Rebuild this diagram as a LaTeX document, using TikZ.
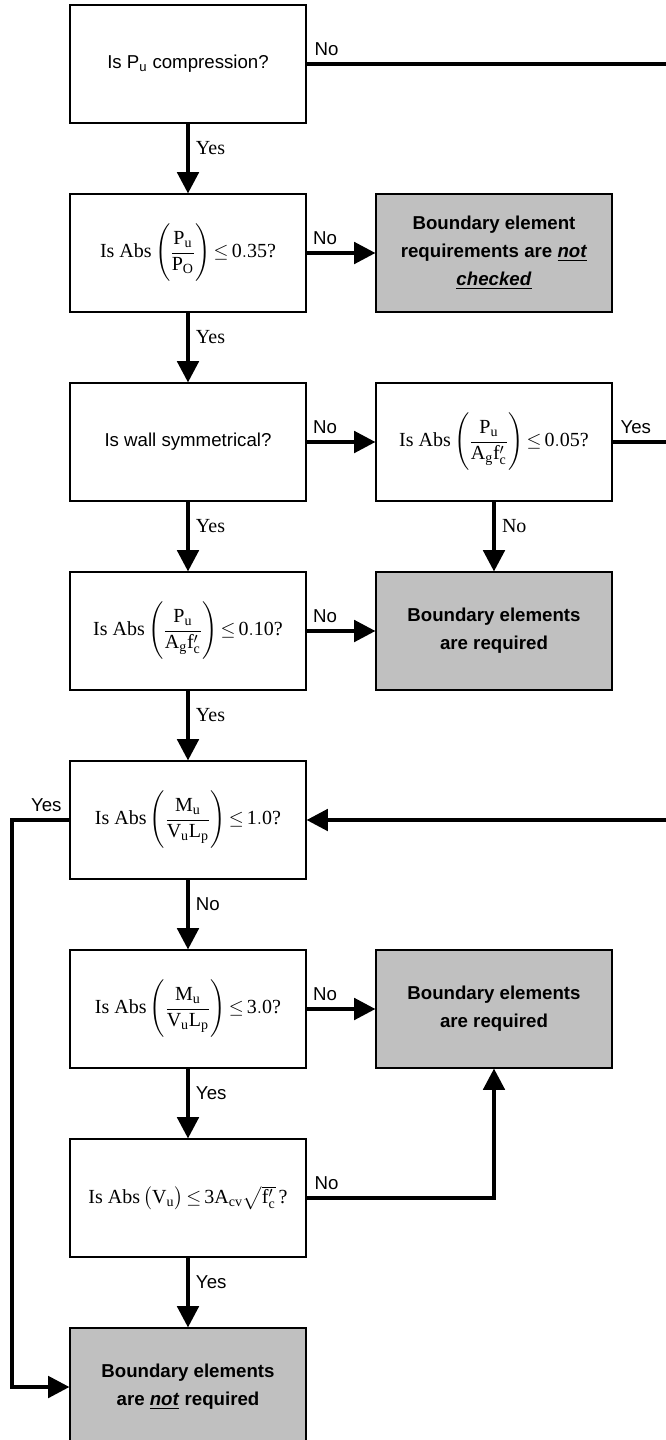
\documentclass[tikz,border=0pt]{standalone}
\usepackage{amsmath}
\usepackage{fontspec}
\setmainfont{Liberation Serif}
\setsansfont{Liberation Sans}
\usepackage{tikz}
\usetikzlibrary{positioning}
\usetikzlibrary{arrows.meta}
\definecolor{boxgray}{RGB}{192,192,192}

\begin{document}
\begin{tikzpicture}[
            > = {Triangle[length=16pt, width=16pt]}, % arrow head style
            line width = 3pt, % connector style
            node distance = 141.75pt % distance between rows
        ]

        \tikzstyle{question}=[
            draw, line width = 0.8pt,
            fill = white,
            minimum width = 177pt,
            minimum height = 88.5pt,
            inner sep = 0pt,
            align = center
        ]
        \tikzstyle{result}=[question, fill = boxgray,
            font = \sffamily\bfseries\fontsize{14}{21}\selectfont]
        \tikzstyle{sanstext}=[font = \sffamily\fontsize{14}{17}\selectfont]
        \tikzstyle{formula}=[font = \rmfamily\fontsize{15}{18}\selectfont]
        \tikzstyle{sanslbl}=[font = \sffamily\fontsize{14}{17}\selectfont, inner sep = 4.5pt]
        \tikzstyle{seriflbl}=[font = \rmfamily\fontsize{15}{18}\selectfont, inner sep = 4.5pt]

        \useasboundingbox (-141pt, 48pt) rectangle (358.5pt, -1032pt);
        \coordinate (rgt) at (358.5pt, 0);
        \coordinate (lft) at (-132pt, 0);

	% questions
        \node[question, sanstext] (q1) {Is P\textsubscript{u} compression?};
        \node[question, formula] (q2) [below of = q1]
            {Is Abs\,$\Biggl(\dfrac{\mathrm{P}_{\mathrm{u}}}{\mathrm{P}_{\mathrm{O}}}\Biggr)\,{\leq}\,\mathrm{0.35}$?};
        \node[question, sanstext] (q3) [below of = q2] {Is wall symmetrical?};
        \node[question, formula] (q4) [below of = q3]
            {Is Abs\,$\Biggl(\dfrac{\mathrm{P}_{\mathrm{u}}}{\mathrm{A}_{\mathrm{g}}\mathrm{f}'_{\mathrm{c}}}\Biggr)\,{\leq}\,\mathrm{0.10}$?};
        \node[question, formula] (q5) [below of = q4]
            {Is Abs\,$\Biggl(\dfrac{\mathrm{M}_{\mathrm{u}}}{\mathrm{V}_{\mathrm{u}}\mathrm{L}_{\mathrm{p}}}\Biggr)\,{\leq}\,\mathrm{1.0}$?};
        \node[question, formula] (q6) [below of = q5]
            {Is Abs\,$\Biggl(\dfrac{\mathrm{M}_{\mathrm{u}}}{\mathrm{V}_{\mathrm{u}}\mathrm{L}_{\mathrm{p}}}\Biggr)\,{\leq}\,\mathrm{3.0}$?};
        \node[question, formula] (q7) [below of = q6]
            {Is Abs\,$\bigl(\mathrm{V}_{\mathrm{u}}\bigr)\,{\leq}\,\mathrm{3A}_{\mathrm{cv}}\sqrt{\mathrm{f}'_{\mathrm{c}}}\,$?};
        \node[result] (fin) [below of = q7] {Boundary elements\\are \underline{\textit{not}} required};

        % right column
        \node[result] (g1) [node distance = 229.5pt, right of = q2]
            {Boundary element\\requirements are \underline{\textit{not}}\\\underline{\textit{checked}}};
        \node[question, formula] (q3b) [node distance = 229.5pt, right of = q3]
            {Is Abs\,$\Biggl(\dfrac{\mathrm{P}_{\mathrm{u}}}{\mathrm{A}_{\mathrm{g}}\mathrm{f}'_{\mathrm{c}}}\Biggr)\,{\leq}\,\mathrm{0.05}$?};
        \node[result] (g2) [node distance = 229.5pt, right of = q4] {Boundary elements\\are required};
        \node[result] (g3) [node distance = 229.5pt, right of = q6] {Boundary elements\\are required};

        % down the left column
        \path[->] (q1) edge node[pos=0.35, right, seriflbl] {Yes} (q2);
        \path[->] (q2) edge node[pos=0.35, right, seriflbl] {Yes} (q3);
        \path[->] (q3) edge node[pos=0.35, right, seriflbl] {Yes} (q4);
        \path[->] (q4) edge node[pos=0.35, right, seriflbl] {Yes} (q5);
        \path[->] (q5) edge node[pos=0.35, right, sanslbl] {No} (q6);
        \path[->] (q6) edge node[pos=0.35, right, sanslbl] {Yes} (q7);
        \path[->] (q7) edge node[pos=0.35, right, sanslbl] {Yes} (fin);
        \path[->] (q3b) edge node[pos=0.35, right, seriflbl] {No} (g2);

        % across
        \path[->] (q2) edge node[pos=0.27, above, sanslbl] {No} (g1);
        \path[->] (q3) edge node[pos=0.27, above, sanslbl] {No} (q3b);
        \path[->] (q4) edge node[pos=0.27, above, sanslbl] {No} (g2);
        \path[->] (q6) edge node[pos=0.27, above, sanslbl] {No} (g3);
        \draw[->] (q7) -| node[at start, above right, sanslbl] {No} (g3);

        % off to the right and back
        \draw (q1) -- node[at start, above right, sanslbl] {No} (q1 -| rgt);
        \draw (q3b) -- node[at start, above right, sanslbl] {Yes} (q3b -| rgt);
        \draw[->] (q5 -| rgt) -- (q5);
        \draw[->] (q5) -- node[at start, above left, sanslbl] {Yes} (q5 -| lft) |- (fin);

\end{tikzpicture}
\end{document}
